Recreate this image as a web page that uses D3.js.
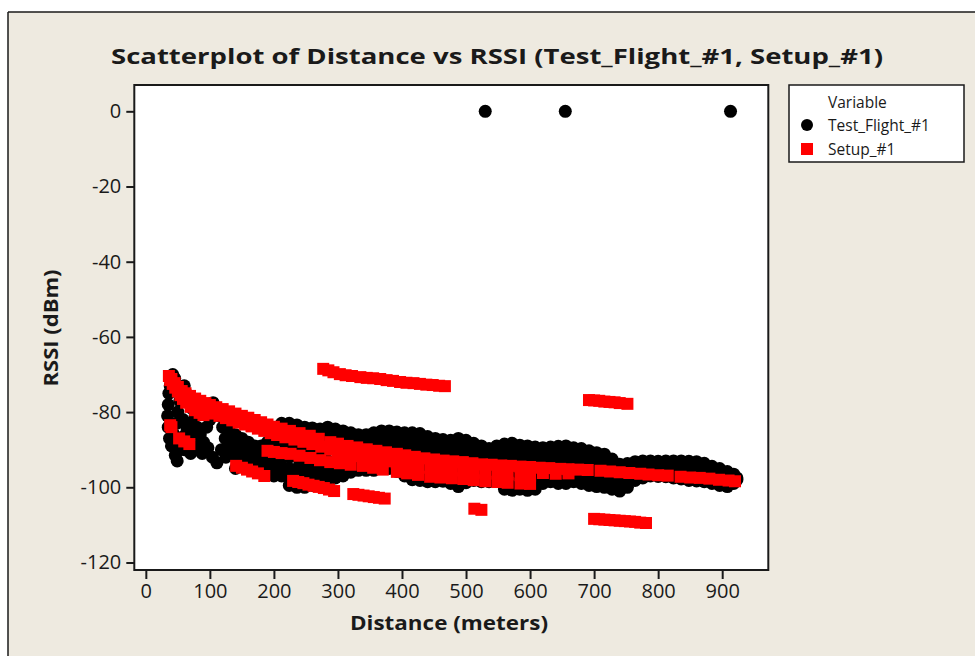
<!DOCTYPE html>
<html><head><meta charset="utf-8">
<script src="https://cdn.jsdelivr.net/npm/d3@7"></script>
<style>body{margin:0;background:#fff}svg{display:block}</style>
</head><body>
<svg id="c" width="975" height="656"></svg>
<script>
const chartTitle = "Scatterplot of Distance vs RSSI (Test_Flight_#1, Setup_#1)";
const xLabel = "Distance (meters)";
const yLabel = "RSSI (dBm)";
const seriesNames = ["Test_Flight_#1", "Setup_#1"];
const xTicks = [0,100,200,300,400,500,600,700,800,900];
const yTicks = [0,-20,-40,-60,-80,-100,-120];

// Test_Flight_#1 : [distance, rssi]
const flightOutliers = [[530,0],[655,0],[913,0]];
const flightLeft = [
[42,-70],[45,-71],[38,-73],[36,-75],[35,-78],[34,-81],[35,-84],[37,-87],[40,-89],[46,-91.5],[44,-86],[48,-83],[50,-80],[53,-77],[56,-74],[60,-73],[63,-75],[58,-82],[62,-86],[55,-88],[52,-90],[49,-93],
[68,-77],[72,-79],[77,-81],[70,-83],[66,-88],[74,-86],[80,-84],[85,-86],[90,-88],[97,-89.5],[104,-92],[111,-93.5],[95,-84],[100,-82],[105,-77.5],[110,-79],[115,-81],[120,-84],[124,-87],
[82,-89],[88,-91],[64,-84],[76,-84],[118,-90],[125,-92],[60,-90],[70,-91]
];
// Test_Flight_#1 by distance column: [distance, [rssi values]]
const flightColumns = [
[130,[-85,-88,-91]],
[140,[-86,-89,-92,-95]],
[150,[-87,-89.5,-92]],
[160,[-88,-90.5,-93]],
[170,[-89,-91.5,-94]],
[180,[-89,-92,-94.5]],
[190,[-88,-90.5,-93,-95.5]],
[200,[-87,-89.5,-92,-94.5,-97]],
[212,[-83,-86,-89,-92,-94.5,-97]],
[224,[-83,-86,-89,-92,-95,-97.5,-99.5]],
[236,[-83.4,-86,-89,-92,-95,-97.5,-100]],
[248,[-84,-86.5,-89.5,-92.5,-95,-97.5,-100]],
[260,[-84.2,-87,-90,-92.5,-95,-97.5,-99.5]],
[272,[-84.5,-87.5,-90,-93,-95.5,-98]],
[284,[-84,-87,-90,-93,-95.5,-98]],
[296,[-84.5,-87,-90,-93,-95.5,-97.5]],
[308,[-85,-87.5,-90,-93,-95.5,-97]],
[320,[-85.5,-88,-90.5,-93,-96]],
[332,[-86,-88.5,-91,-93.5,-95.5]],
[344,[-86,-88.5,-91,-93.5,-95.5]],
[356,[-85.5,-88,-90.5,-93,-95.5]],
[368,[-85,-87.5,-90,-92.5,-95]],
[380,[-85,-87.5,-90,-92.5,-95]],
[392,[-85.3,-88,-90.5,-93,-95.8]],
[404,[-85.5,-88,-90.5,-93,-95.5,-97]],
[416,[-85.5,-88,-91,-93.5,-96,-98]],
[428,[-85.7,-88.5,-91,-93.5,-96,-98.2]],
[440,[-86.5,-89,-91.5,-94,-96.5,-98.5]],
[452,[-87,-89.5,-92,-94.5,-97,-98.5]],
[464,[-87.3,-89.5,-92,-94.5,-97,-98.4]],
[476,[-87.5,-90,-92.5,-95,-97.5,-99]],
[488,[-87,-89.5,-92,-94.5,-97,-99.8]],
[500,[-87.5,-90,-92.5,-95,-97,-98.8]],
[512,[-88.3,-90.5,-93,-95.5,-98.2]],
[524,[-89,-91,-93.5,-96,-98.5]],
[536,[-89.7,-92,-94,-96.5,-98.5]],
[548,[-89,-91.5,-94,-96.5,-98.4]],
[560,[-88.5,-91,-93.5,-96,-98.5,-100.5]],
[572,[-88.3,-91,-93.5,-96,-98.5,-100.8]],
[584,[-88.8,-91,-93.5,-96,-98.5,-100.5]],
[596,[-89,-91.5,-94,-96.5,-99,-100.8]],
[608,[-89.3,-91.5,-94,-96.5,-99,-100.5]],
[620,[-89.5,-92,-94.5,-97,-99]],
[632,[-89.3,-91.5,-94,-96.5,-98.5]],
[644,[-89.1,-91.5,-94,-96.5,-99]],
[656,[-89,-91.5,-94,-96.5,-99]],
[668,[-89.5,-92,-94.5,-97,-98.5]],
[680,[-89.7,-92,-94.5,-97,-99]],
[692,[-90.3,-92.5,-95,-97.5,-99.5]],
[704,[-90.8,-93,-95.5,-97.5,-99.8]],
[716,[-91.2,-93.5,-95.5,-98,-100]],
[728,[-92.5,-94.5,-96.5,-98.5,-100.5]],
[740,[-93.9,-96,-98,-101]],
[752,[-93.7,-96,-98.5,-100]],
[764,[-93.2,-95.5,-97.5,-98.2]],
[776,[-93,-95,-97,-97.5]],
[788,[-93,-95,-97]],
[800,[-93.1,-95,-97.1]],
[812,[-93,-95,-97.2]],
[824,[-93,-95,-97.5]],
[836,[-93,-95.5,-97.8]],
[848,[-93.1,-95.5,-98.2]],
[860,[-93.2,-95.5,-98.3]],
[872,[-93.6,-96,-98.5]],
[884,[-94.4,-96.5,-99]],
[896,[-95,-97,-99.5]],
[908,[-95.8,-97.5,-99.8]],
[918,[-96.5,-98,-99]],
[923,[-97.5,-98]]
];

// Setup_#1 : [distance, rssi]
const setupMain = [
[36,-70.4],[40,-71.2],[45,-72.3],[50,-73.3],[56,-74.4],[62,-75.0],[69,-75.7],[77,-76.4],[85,-77.0],[93,-77.6],[100,-78.1],[110,-78.7],[120,-79.2],[130,-79.8],[140,-80.4],[150,-81.0],[160,-81.5],[170,-82.1],[180,-82.7],[190,-83.3],[200,-83.9],[212,-84.4],[225,-85.0],[240,-85.6],[256,-86.3],[270,-87.1],[288,-88.0],[300,-88.4],[315,-89.0],[330,-89.4],[345,-89.9],[360,-90.3],[375,-90.7],[392,-91.1],[405,-91.5],[420,-91.9],[435,-92.3],[450,-92.6],[465,-92.9],[480,-93.1],[495,-93.3],[510,-93.6],[525,-93.9],[540,-94.0],[555,-94.2],[570,-94.3],[585,-94.5],[600,-94.6],[615,-94.8],[630,-94.9],[647,-95.1],[660,-95.2],[675,-95.3],[690,-95.4],[710,-95.6],[725,-95.8],[740,-96.0],[755,-96.2],[772,-96.4],[785,-96.6],[800,-96.8],[815,-96.9],[835,-97.2],[850,-97.4],[865,-97.5],[880,-97.7],[895,-98.0],[910,-98.2],[920,-98.4]
];
const setupSecond = [
[95,-79.8],[105,-80.4],[115,-81],[125,-81.6],[135,-82.2],[145,-82.8],[155,-83.3],[165,-83.8],[175,-84.4],[185,-85],[195,-85.6],[205,-86.1],[218,-86.7],[232,-87.3],[246,-87.9],[260,-88.5],[274,-89.2],[288,-90],
[300,-90.8],[315,-91.2],[330,-91.7],[345,-92.1],[360,-92.6],[375,-93.1],[392,-93.5],[408,-93.9],[425,-94.4],[444,-94.8],[460,-95.2],[478,-95.4],[496,-95.6],[512,-95.9],[530,-96.3],[549,-96.4],[565,-96.6],[585,-96.8],[600,-96.9],[620,-96.2],[640,-96.4],[660,-96.3]
];
const setupLower = [
[190,-90.3],[200,-90.6],[212,-90.9],[226,-91.1],[240,-91.6],[257,-92.2],[272,-92.8],[288,-93.3],[303,-93.6],[320,-94.0],[339,-94.3],[355,-94.8],[370,-95.3],[392,-95.9],[408,-96.3],[425,-96.7],[444,-97.2],[460,-97.4],[478,-97.6],[496,-97.8],[512,-98.1],[530,-98.4],[549,-98.6],[565,-98.8],[585,-99.0],[600,-99.1]
];
const setupBranch = [
[38,-71.5],[42,-72.5],[46,-73.5],[50,-74.5],[54,-75.5],[58,-76.5],[63,-77.5],[70,-78.6],[77,-79.5],[84,-80.2],[90,-80.8],
[38,-83.5],[40,-84],[52,-87],[60,-87.8],[68,-88.5]
];
const setupSegments = [
[141,-94.3],[150,-94.8],[158,-95.3],[166,-95.8],[175,-96.3],[185,-97],
[230,-98.3],[238,-98.6],[246,-98.9],[254,-99.3],[262,-99.6],[270,-99.9],[278,-100.2],[286,-100.6],[294,-101],
[324,-101.8],[332,-102],[340,-102.2],[348,-102.4],[356,-102.6],[364,-102.8],[373,-103],
[513,-105.7],[524,-106],
[277,-68.5],[285,-68.9],[293,-69.4],[303,-69.9],[312,-70.2],[322,-70.4],[335,-70.7],[345,-70.9],[355,-71.0],[366,-71.2],[376,-71.5],[386,-71.7],[397,-72.0],[407,-72.2],[418,-72.3],[428,-72.5],[438,-72.7],[448,-72.8],[458,-73.0],[467,-73.1],
[692,-76.8],[700,-76.9],[708,-77],[716,-77.2],[724,-77.3],[732,-77.4],[740,-77.6],[752,-77.8],
[700,-108.4],[708,-108.5],[716,-108.6],[724,-108.7],[732,-108.8],[740,-108.9],[748,-109],[756,-109.1],[764,-109.2],[772,-109.4],[781,-109.5]
];

const flightAll = flightOutliers.concat(flightLeft, flightColumns.flatMap(([d, rs]) => rs.map(r => [d, r])));
const setupAll = setupMain.concat(setupSecond, setupLower, setupBranch, setupSegments);

const svg = d3.select("#c");
const bg = "#eeeae0", ink = "#1a1a1a";
const F = "'Open Sans', 'Noto Sans', sans-serif";

svg.append("rect").attr("x",0).attr("y",0).attr("width",975).attr("height",656).attr("fill","#fff");
svg.append("rect").attr("x",8).attr("y",12).attr("width",967).attr("height",644).attr("fill",bg);
svg.append("line").attr("x1",8).attr("x2",975).attr("y1",12).attr("y2",12).attr("stroke",ink).attr("stroke-width",1.5);
svg.append("line").attr("x1",8).attr("x2",8).attr("y1",12).attr("y2",656).attr("stroke",ink).attr("stroke-width",1.5);

const L = 134.3, R = 768.3, T = 85, B = 570;
const x = d3.scaleLinear().domain([-18, 972]).range([L, R]);
const y = d3.scaleLinear().domain([7, -122]).range([T, B]);

svg.append("rect").attr("x",L).attr("y",T).attr("width",R-L).attr("height",B-T).attr("fill","#fff");

svg.append("defs").append("clipPath").attr("id","clip")
  .append("rect").attr("x",L).attr("y",T).attr("width",R-L).attr("height",B-T);
const plot = svg.append("g").attr("clip-path","url(#clip)");

plot.append("g").selectAll("circle").data(flightAll).join("circle")
  .attr("cx", d => x(d[0])).attr("cy", d => y(d[1])).attr("r", 6.5).attr("fill", "#000");

const sq = 12;
plot.append("g").selectAll("rect").data(setupAll).join("rect")
  .attr("x", d => x(d[0]) - sq/2).attr("y", d => y(d[1]) - sq/2)
  .attr("width", sq).attr("height", sq).attr("fill", "#ff0000");

svg.append("rect").attr("x",L).attr("y",T).attr("width",R-L).attr("height",B-T)
  .attr("fill","none").attr("stroke",ink).attr("stroke-width",2);

const xa = svg.append("g").attr("transform",`translate(0,${B})`)
  .call(d3.axisBottom(x).tickValues(xTicks).tickSize(9).tickPadding(5).tickFormat(d3.format("d")));
const ya = svg.append("g").attr("transform",`translate(${L},0)`)
  .call(d3.axisLeft(y).tickValues(yTicks).tickSize(8).tickPadding(5).tickFormat(d => d === 0 ? "0" : "-" + Math.abs(d)));
[xa, ya].forEach(a => {
  a.select(".domain").remove();
  a.selectAll(".tick line").attr("stroke", ink).attr("stroke-width", 2);
  a.selectAll(".tick text").attr("fill", ink).style("font-family", F).style("font-size", "20px");
});

svg.append("text").attr("x",497).attr("y",64).attr("text-anchor","middle")
  .attr("textLength",772).attr("lengthAdjust","spacingAndGlyphs")
  .style("font-family",F).style("font-weight","bold").style("font-size","22px").attr("fill",ink)
  .text(chartTitle);

svg.append("text").attr("x",449).attr("y",630).attr("text-anchor","middle")
  .attr("textLength",198).attr("lengthAdjust","spacingAndGlyphs")
  .style("font-family",F).style("font-weight","bold").style("font-size","20px").attr("fill",ink)
  .text(xLabel);

svg.append("text").attr("transform","translate(58,328) rotate(-90)").attr("text-anchor","middle")
  .attr("textLength",117).attr("lengthAdjust","spacingAndGlyphs")
  .style("font-family",F).style("font-weight","bold").style("font-size","20px").attr("fill",ink)
  .text(yLabel);

const lg = svg.append("g");
lg.append("rect").attr("x",789).attr("y",85).attr("width",175).attr("height",77)
  .attr("fill","#fff").attr("stroke",ink).attr("stroke-width",1.5);
lg.append("text").attr("x",828).attr("y",108).style("font-family",F).style("font-size","15.5px").attr("fill",ink).text("Variable");
lg.append("circle").attr("cx",807).attr("cy",125).attr("r",6).attr("fill","#000");
lg.append("text").attr("x",828).attr("y",131).style("font-family",F).style("font-size","15.5px").attr("fill",ink).text(seriesNames[0]);
lg.append("rect").attr("x",801).attr("y",143).attr("width",12).attr("height",12).attr("fill","#ff0000");
lg.append("text").attr("x",828).attr("y",155).style("font-family",F).style("font-size","15.5px").attr("fill",ink).text(seriesNames[1]);
</script>
</body></html>
